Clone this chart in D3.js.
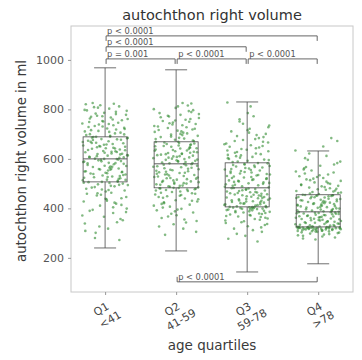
<!DOCTYPE html>
<html>
<head>
<meta charset="utf-8">
<script src="https://cdn.jsdelivr.net/npm/d3@7"></script>
<style>
  body { margin: 0; background: #fff; }
  text { font-family: "DejaVu Sans", sans-serif; }
</style>
</head>
<body>
<script>
// categories + tick labels
const groups = ["Q1", "Q2", "Q3", "Q4"];
const groupRanges = ["<41", "41-59", "59-78", ">78"];

// box stats (ml)
const whiskerLo = [240, 228, 143, 176];
const q1s = [507, 483, 406, 325];
const medians = [600, 580, 483, 386];
const q3s = [689, 669, 584, 455];
const whiskerHi = [968, 960, 830, 632];

// scatter values, estimated per group (two batches each)
const pointsQ1 = [272, 301, 318, 339, 352, 366, 381, 390, 399, 411, 419, 428, 437, 441, 452, 459, 463, 472, 476, 484, 489, 494, 497, 503, 506,
  508, 514, 516, 522, 526, 529, 533, 537, 541, 544, 548, 550, 556, 559, 561, 567, 571, 572, 578, 582, 584, 589, 591, 596, 599,
  601, 606, 608, 613, 615, 620, 622, 627, 631, 632, 638, 641, 643, 649, 652, 654, 660, 663, 665, 671, 673, 679, 680, 685, 688,
  693, 696, 703, 706, 713, 716, 723, 726, 733, 736, 743, 746, 753, 756, 763, 767, 774, 778, 786, 790, 798, 803, 812, 817, 826,
  280, 309, 327, 344, 357, 371, 385, 394, 404, 414, 423, 431, 439, 446, 455, 461, 468, 474, 479, 486, 491, 495, 500, 504, 507,
  511, 515, 519, 524, 527, 531, 535, 539, 542, 546, 549, 553, 557, 560, 564, 568, 569, 575, 580, 583, 587, 590, 594, 597, 600,
  604, 607, 611, 614, 618, 621, 625, 628, 629, 635, 636, 642, 645, 647, 650, 657, 658, 664, 668, 669, 676, 677, 683, 686, 689,
  690, 699, 700, 709, 711, 719, 721, 729, 731, 739, 741, 749, 751, 759, 761, 770, 772, 781, 783, 794, 796, 807, 809, 821, 823];
const pointsQ2 = [293, 318, 336, 349, 361, 372, 383, 392, 398, 407, 415, 421, 428, 433, 440, 446, 451, 456, 461, 466, 470, 474, 477, 480, 482,
  485, 489, 492, 497, 500, 504, 509, 511, 516, 520, 523, 527, 531, 535, 538, 543, 546, 550, 554, 558, 562, 566, 570, 574, 578,
  582, 585, 589, 592, 596, 599, 603, 606, 610, 613, 617, 620, 624, 627, 631, 634, 638, 642, 645, 649, 652, 656, 660, 664, 668,
  672, 677, 682, 688, 693, 698, 703, 709, 714, 719, 725, 731, 736, 741, 747, 753, 758, 765, 771, 778, 785, 793, 801, 812, 824,
  305, 327, 343, 355, 367, 378, 388, 395, 403, 411, 418, 425, 431, 437, 443, 449, 454, 459, 463, 468, 472, 476, 479, 481, 483,
  487, 491, 495, 499, 502, 506, 507, 513, 518, 522, 525, 529, 533, 537, 540, 544, 548, 552, 556, 560, 564, 568, 572, 576, 579,
  583, 587, 591, 594, 597, 601, 605, 608, 611, 615, 619, 622, 625, 629, 633, 636, 640, 643, 647, 651, 654, 658, 662, 666, 669,
  674, 680, 685, 690, 696, 701, 706, 711, 717, 722, 728, 733, 739, 744, 750, 755, 761, 768, 774, 781, 789, 797, 806, 816, 826];
const pointsQ3 = [266, 289, 305, 318, 328, 337, 344, 351, 357, 362, 367, 371, 375, 379, 383, 386, 389, 392, 395, 397, 399, 401, 403, 404, 405,
  408, 411, 414, 417, 420, 423, 426, 429, 432, 435, 438, 441, 444, 447, 450, 453, 456, 459, 462, 465, 468, 472, 475, 478, 481,
  485, 489, 493, 497, 501, 505, 509, 513, 517, 521, 525, 529, 533, 537, 541, 545, 549, 553, 557, 561, 565, 569, 573, 577, 582,
  587, 592, 597, 603, 608, 614, 619, 625, 631, 637, 643, 649, 655, 662, 669, 676, 684, 692, 701, 711, 722, 735, 751, 772, 828,
  277, 297, 312, 323, 333, 341, 348, 354, 359, 365, 369, 373, 377, 381, 384, 388, 390, 393, 396, 398, 400, 402, 404, 405, 406,
  409, 413, 416, 419, 421, 425, 428, 431, 433, 437, 440, 442, 446, 449, 452, 455, 457, 461, 464, 466, 470, 473, 477, 480, 482,
  487, 491, 495, 499, 503, 507, 511, 515, 519, 523, 527, 531, 535, 539, 543, 547, 551, 555, 559, 563, 567, 571, 575, 579, 583,
  589, 595, 600, 605, 611, 616, 622, 628, 634, 640, 646, 652, 659, 666, 672, 680, 688, 696, 706, 716, 728, 742, 760, 785, 812];
const pointsQ4 = [274, 282, 289, 294, 298, 302, 305, 307, 309, 311, 313, 314, 315, 316, 317, 318, 319, 320, 321, 321, 322, 323, 323, 324, 325,
  327, 329, 332, 334, 337, 339, 342, 344, 347, 349, 352, 354, 357, 359, 362, 364, 367, 369, 372, 374, 377, 379, 381, 383, 385,
  388, 391, 393, 396, 399, 402, 405, 408, 411, 414, 417, 420, 423, 426, 429, 432, 435, 438, 441, 444, 446, 449, 451, 453, 454,
  458, 462, 466, 470, 475, 479, 484, 489, 494, 499, 505, 511, 517, 523, 530, 537, 545, 553, 562, 572, 583, 596, 612, 634, 684,
  278, 286, 291, 296, 300, 303, 306, 308, 310, 312, 313, 315, 316, 317, 318, 319, 320, 320, 321, 322, 322, 323, 324, 324, 325,
  328, 331, 333, 336, 338, 341, 343, 346, 348, 351, 353, 356, 358, 361, 363, 366, 368, 371, 373, 376, 378, 380, 382, 384, 386,
  389, 392, 395, 397, 400, 403, 406, 409, 412, 415, 418, 421, 424, 427, 430, 433, 436, 439, 442, 445, 447, 450, 452, 453, 455,
  460, 464, 468, 472, 477, 481, 486, 491, 496, 502, 508, 514, 520, 527, 534, 541, 549, 557, 567, 577, 589, 603, 622, 650, 672];
const allPoints = [pointsQ1, pointsQ2, pointsQ3, pointsQ4];

// horizontal jitter (fraction of half-width), hand written
const jitter = [0.62, -0.41, 0.13, -0.88, 0.77, -0.05, 0.35, -0.67, 0.94, -0.22, 0.48, -0.93, 0.06, 0.71, -0.36, -0.79, 0.27, 0.85, -0.14, -0.58,
  0.41, 0.99, -0.31, 0.19, -0.72, 0.55, -0.97, 0.08, 0.66, -0.48, 0.31, -0.11, 0.89, -0.63, 0.02, 0.74, -0.84, 0.23, -0.27, 0.59,
  -0.53, 0.92, -0.02, 0.38, -0.76, 0.16, -0.91, 0.69, -0.18, 0.51, -0.44, 0.81, -0.69, 0.11, 0.96, -0.33, 0.28, -0.86, 0.45, -0.08,
  0.64, -0.57, 0.03, 0.87, -0.25, -0.95, 0.33, 0.79, -0.39, 0.15, -0.74, 0.52, -0.16, 0.98, -0.51, 0.22, -0.82, 0.43, 0.67, -0.29,
  -0.61, 0.09, 0.83, -0.45, 0.36, -0.99, 0.57, -0.12, 0.73, -0.66, 0.25, -0.35, 0.91, -0.04, 0.47, -0.89, 0.18, 0.61, -0.21, -0.54];

// significance brackets: from group, to group, height (ml), label
const bracketFrom = [0, 0, 0, 1, 2, 1];
const bracketTo = [3, 2, 1, 2, 3, 3];
const bracketLevel = [1097, 1053, 1004, 1004, 1004, 103];
const bracketText = ["p < 0.0001", "p < 0.0001", "p = 0.001", "p < 0.0001", "p < 0.0001", "p < 0.0001"];

const yTicks = [200, 400, 600, 800, 1000];

const width = 362, height = 360;
const margin = { top: 26, right: 9, bottom: 68, left: 71 };

const svg = d3.select("body").append("svg")
  .attr("width", width)
  .attr("height", height);

const x = d3.scaleLinear()
  .domain([-0.48, 3.49])
  .range([margin.left, width - margin.right]);

const y = d3.scaleLinear()
  .domain([62, 1137])
  .range([height - margin.bottom, margin.top]);

const boxW = 44, jitterW = 23;

// frame
svg.append("rect")
  .attr("x", margin.left)
  .attr("y", margin.top)
  .attr("width", width - margin.left - margin.right)
  .attr("height", height - margin.top - margin.bottom)
  .attr("fill", "none")
  .attr("stroke", "#c8c8c8")
  .attr("stroke-width", 1);

// y axis
const yAxis = svg.append("g")
  .attr("transform", `translate(${margin.left},0)`)
  .call(d3.axisLeft(y).tickValues(yTicks).tickSize(3).tickPadding(4).tickFormat(d3.format("d")));
yAxis.select(".domain").remove();
yAxis.selectAll("line").attr("stroke", "#999");
yAxis.selectAll("text").attr("fill", "#555").style("font-size", "11px");

// x axis
const xAxis = svg.append("g")
  .attr("transform", `translate(0,${height - margin.bottom})`)
  .call(d3.axisBottom(x).tickValues([0, 1, 2, 3]).tickSize(3).tickFormat(""));
xAxis.select(".domain").remove();
xAxis.selectAll("line").attr("stroke", "#999");

// two-line rotated tick labels
groups.forEach((g, i) => {
  const lab = svg.append("g")
    .attr("transform", `translate(${x(i) - 4},${height - margin.bottom + 17}) rotate(-30)`);
  lab.append("text").attr("text-anchor", "middle").attr("y", 4)
    .attr("fill", "#444").style("font-size", "11px").text(g);
  lab.append("text").attr("text-anchor", "middle").attr("x", 2.5).attr("y", 17.5)
    .attr("fill", "#444").style("font-size", "11px").text(groupRanges[i]);
});

// scatter
allPoints.forEach((pts, gi) => {
  svg.append("g").selectAll("circle")
    .data(pts)
    .enter()
    .append("circle")
    .attr("cx", (d, i) => {
      const j = i < 100 ? jitter[(i + gi * 29) % 100] : jitter[(i * 7 + gi * 13 + 50) % 100];
      return x(gi) + j * jitterW;
    })
    .attr("cy", d => y(d))
    .attr("r", 1.3)
    .attr("fill", "#2e8b2e")
    .attr("fill-opacity", 0.6);
});

// boxes
const boxes = svg.append("g");
groups.forEach((g, i) => {
  const cx = x(i);
  const stroke = "#4a4a4a";
  boxes.append("line").attr("x1", cx).attr("x2", cx).attr("y1", y(whiskerHi[i])).attr("y2", y(q3s[i]))
    .attr("stroke", stroke).attr("stroke-width", 0.8);
  boxes.append("line").attr("x1", cx).attr("x2", cx).attr("y1", y(q1s[i])).attr("y2", y(whiskerLo[i]))
    .attr("stroke", stroke).attr("stroke-width", 0.8);
  [whiskerHi[i], whiskerLo[i]].forEach(v => {
    boxes.append("line").attr("x1", cx - boxW / 4).attr("x2", cx + boxW / 4).attr("y1", y(v)).attr("y2", y(v))
      .attr("stroke", stroke).attr("stroke-width", 0.8);
  });
  boxes.append("rect")
    .attr("x", cx - boxW / 2).attr("width", boxW)
    .attr("y", y(q3s[i])).attr("height", y(q1s[i]) - y(q3s[i]))
    .attr("fill", "none").attr("stroke", stroke).attr("stroke-width", 0.8);
  boxes.append("line").attr("x1", cx - boxW / 2).attr("x2", cx + boxW / 2)
    .attr("y1", y(medians[i])).attr("y2", y(medians[i]))
    .attr("stroke", stroke).attr("stroke-width", 0.9);
});

// brackets
const br = svg.append("g");
bracketText.forEach((t, i) => {
  const x1 = x(bracketFrom[i]) + 1, x2 = x(bracketTo[i]) - 1;
  const yy = y(bracketLevel[i]);
  const up = bracketLevel[i] < 500;
  const tick = up ? -5 : 5;
  br.append("path")
    .attr("d", `M${x1},${yy + tick}V${yy}H${x2}V${yy + tick}`)
    .attr("fill", "none").attr("stroke", "#555").attr("stroke-width", 0.9);
  br.append("text")
    .attr("x", x1 + 1).attr("y", yy - 1.5)
    .attr("fill", "#555").style("font-size", "8.3px")
    .text(t);
});

// titles
svg.append("text")
  .attr("x", (margin.left + width - margin.right) / 2)
  .attr("y", 20)
  .attr("text-anchor", "middle")
  .attr("fill", "#333")
  .style("font-size", "14.5px")
  .text("autochthon right volume");

svg.append("text")
  .attr("transform", `translate(26,${(margin.top + height - margin.bottom) / 2 + 2}) rotate(-90)`)
  .attr("text-anchor", "middle")
  .attr("fill", "#3a3a3a")
  .style("font-size", "13.3px")
  .text("autochthon right volume in ml");

svg.append("text")
  .attr("x", (margin.left + width - margin.right) / 2)
  .attr("y", 350)
  .attr("text-anchor", "middle")
  .attr("fill", "#3a3a3a")
  .style("font-size", "13.5px")
  .text("age quartiles");
</script>
</body>
</html>
